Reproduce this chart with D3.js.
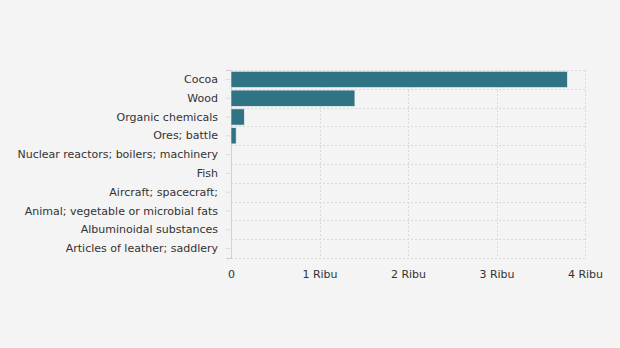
<!DOCTYPE html>
<html><head><meta charset="utf-8">
<script src="https://cdn.jsdelivr.net/npm/d3@7"></script>
<style>body{margin:0;background:#f4f4f4;}svg{display:block;}</style>
</head><body>
<script>
const categories = ["Cocoa","Wood","Organic chemicals","Ores; battle","Nuclear reactors; boilers; machinery","Fish","Aircraft; spacecraft;","Animal; vegetable or microbial fats","Albuminoidal substances","Articles of leather; saddlery"];
const values = [3800, 1400, 150, 58, 3, 2, 1.5, 1, 0.6, 0.4];
const tickValues = [0, 1000, 2000, 3000, 4000];
const tickLabels = ["0", "1 Ribu", "2 Ribu", "3 Ribu", "4 Ribu"];

const W = 620, H = 348;
const m = {left: 231, right: 35, top: 70, bottom: 90};
const svg = d3.select("body").append("svg").attr("width", W).attr("height", H);
svg.append("rect").attr("width", W).attr("height", H).attr("fill", "#f4f4f4");

const x = d3.scaleLinear().domain([0, 4000]).range([m.left, W - m.right]);
const y = d3.scaleBand().domain(categories).range([m.top, H - m.bottom]).paddingInner(0.14).paddingOuter(0.07);
const yb = d3.scaleBand().domain(categories).range([m.top, H - m.bottom]);

const font = "'DejaVu Sans', Verdana, sans-serif";
const g = svg.append("g");

// horizontal grid at band boundaries
const bounds = categories.map(c => yb(c)).concat([H - m.bottom]);
g.selectAll("line.hg").data(bounds).join("line")
  .attr("x1", m.left).attr("x2", W - m.right)
  .attr("y1", d => Math.round(d) + 0.5).attr("y2", d => Math.round(d) + 0.5)
  .attr("stroke", "#d9d9d9").attr("stroke-dasharray", "2,2");
// vertical grid
g.selectAll("line.vg").data(tickValues.slice(1)).join("line")
  .attr("x1", d => Math.round(x(d)) + 0.5).attr("x2", d => Math.round(x(d)) + 0.5)
  .attr("y1", m.top).attr("y2", H - m.bottom)
  .attr("stroke", "#d9d9d9").attr("stroke-dasharray", "2,2");

// y axis
const yAxis = d3.axisLeft(yb).tickSize(5).tickPadding(8);
const ya = svg.append("g").attr("transform", `translate(${m.left},0)`).call(yAxis);
ya.select(".domain").attr("stroke", "#cccccc");
ya.selectAll(".tick line").attr("stroke", "#dddddd");
ya.selectAll("text").attr("font-family", font).attr("font-size", 11).attr("fill", "#333");

// x axis labels
const xAxis = d3.axisBottom(x).tickValues(tickValues).tickFormat((d, i) => tickLabels[i]).tickSize(0).tickPadding(12);
const xa = svg.append("g").attr("transform", `translate(0,${H - m.bottom})`).call(xAxis);
xa.select(".domain").remove();
xa.selectAll("text").attr("font-family", font).attr("font-size", 11).attr("fill", "#333");

// bars
svg.append("g").selectAll("rect").data(values).join("rect")
  .attr("x", x(0))
  .attr("y", (d, i) => y(categories[i]))
  .attr("width", d => x(d) - x(0))
  .attr("height", y.bandwidth())
  .attr("fill", "#2f7385")
  .attr("stroke", "#e8f0f2").attr("stroke-width", 0.6);
</script>
</body></html>
